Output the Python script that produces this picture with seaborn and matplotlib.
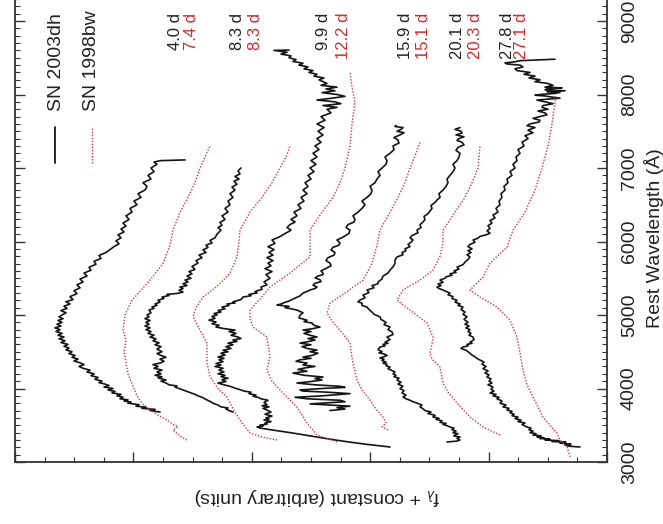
import matplotlib
matplotlib.use("Agg")
import matplotlib.pyplot as plt
import pandas as pd
import seaborn as sns
from matplotlib.ticker import MultipleLocator

# ---------------- data: (rest wavelength [A], f_lambda + constant [arbitrary units]) ----------------
sn03dh_04d = [(3680,447),(3700,457),(3715,452),(3730,465),(3745,461),(3760,471),(3780,468),(3800,479),
              (3815,476),(3830,483),(3845,479),(3860,487),(3880,484),(3900,490),(3920,486),(3940,495),
              (3960,492),(3980,499),(4000,494),(4020,503),(4040,498),(4060,502),(4080,508),(4100,505),
              (4125,512),(4150,509),(4175,516),(4200,513),(4225,520),(4250,517),(4275,524),(4300,528),
              (4325,523),(4350,527),(4375,533),(4400,529),(4425,535),(4450,532),(4475,538),(4500,535),
              (4525,541),(4550,538),(4575,543),(4600,539),(4625,546),(4650,542),(4675,548),(4700,543),
              (4725,549),(4750,545),(4775,551),(4800,547),(4825,552),(4850,546),(4875,550),(4900,545),
              (4925,549),(4950,544),(4975,548),(5000,545),(5030,541),(5060,546),(5090,540),(5120,543),
              (5150,537),(5180,541),(5210,534),(5250,537),(5290,530),(5330,533),(5370,527),(5410,530),
              (5450,524),(5490,527),(5530,520),(5570,523),(5610,516),(5650,518),(5690,511),(5730,513),
              (5770,506),(5810,508),(5850,501),(5890,497),(5930,493),(5970,488),(6010,491),(6050,486),
              (6090,489),(6130,483),(6170,486),(6210,481),(6250,484),(6300,478),(6350,481),(6400,475),
              (6450,477),(6500,470),(6550,473),(6600,466),(6650,469),(6700,462),(6750,460),(6800,464),
              (6850,456),(6900,459),(6950,453),(7000,456),(7050,450),(7080,453),(7100,447),(7110,422)]
sn98bw_07d = [(3300, 420), (3350, 427), (3400, 431), (3435, 434), (3480, 429), (3520, 435), (3570, 440),
              (3640, 449), (3710, 457), (3800, 465), (3900, 470), (4000, 473), (4200, 479), (4350, 481),
              (4500, 483), (4650, 481), (4800, 484), (5000, 482), (5200, 475), (5475, 457), (5700, 444),
              (5950, 437), (6155, 434), (6400, 427), (6600, 419), (6800, 412), (7000, 407), (7150, 402),
              (7300, 397)]
sn03dh_08d = [(3680,374),(3700,378),(3720,381),(3735,379),(3750,386),(3775,389),(3800,394),(3825,397),
              (3850,401),(3875,404),(3900,409),(3920,412),(3940,416),(3960,420),(3980,424),(4000,428),
              (4020,432),(4035,430),(4050,438),(4075,441),(4100,446),(4115,441),(4130,445),(4145,449),
              (4160,445),(4180,452),(4200,446),(4225,450),(4250,445),(4275,453),(4300,449),(4325,454),
              (4346,447),(4370,443),(4400,447),(4425,441),(4450,446),(4475,450),(4500,445),(4535,450),
              (4570,446),(4595,452),(4620,448),(4650,454),(4675,451),(4700,457),(4725,453),(4750,459),
              (4775,456),(4800,461),(4825,457),(4850,462),(4875,458),(4900,461),(4925,457),(4950,462),
              (4975,458),(5000,460),(5030,456),(5067,458),(5090,453),(5110,455),(5130,450),(5150,452),
              (5175,447),(5200,449),(5225,443),(5244,445),(5265,438),(5280,440),(5295,429),(5312,424),
              (5336,428),(5360,424),(5380,427),(5400,420),(5425,424),(5450,419),(5475,422),(5500,416),
              (5530,420),(5560,415),(5590,418),(5620,412),(5660,415),(5706,409),(5740,411),(5780,405),
              (5815,408),(5850,401),(5885,404),(5920,399),(5950,401),(5980,395),(6015,397),(6050,392),
              (6100,390),(6155,386),(6190,389),(6220,385),(6260,387),(6300,382),(6350,385),(6400,379),
              (6450,382),(6500,377),(6550,379),(6600,374),(6650,377),(6700,372),(6740,375),(6780,370),
              (6820,373),(6850,368),(6885,372),(6920,367),(6960,369),(7000,366)]
sn98bw_08d = [(3300, 330), (3340, 345), (3394, 357), (3480, 362), (3571, 367), (3700, 373), (3884, 380),
              (4000, 389), (4160, 397), (4346, 400), (4500, 400), (4618, 400), (4795, 407), (4975, 414),
              (5100, 411), (5244, 404), (5400, 389), (5570, 377), (5790, 370), (6000, 368), (6155, 367),
              (6400, 357), (6600, 345), (6800, 335), (7000, 327), (7150, 321), (7300, 317)]
sn03dh_10d = [(3204,217),(3240,240),(3270,257),(3300,272),(3340,290),(3370,304),(3400,317),(3420,327),
              (3440,337),(3462,347),(3476,350),(3490,344),(3500,347),(3515,340),(3530,342),(3550,336),
              (3570,343),(3585,338),(3600,341),(3625,335),(3650,342),(3680,336),(3707,340),(3730,344),
              (3750,338),(3765,345),(3780,340),(3810,343),(3840,339),(3860,346),(3880,349),(3895,354),
              (3910,351),(3930,358),(3950,356),(3965,363),(3980,366),(4005,372),(4030,377),(4050,383),
              (4074,389),(4095,381),(4120,385),(4140,379),(4160,386),(4180,382),(4200,389),(4225,383),
              (4250,388),(4275,384),(4300,392),(4320,386),(4340,391),(4365,384),(4390,388),(4410,383),
              (4428,389),(4455,382),(4480,386),(4500,379),(4520,384),(4545,376),(4570,381),(4595,374),
              (4618,379),(4640,370),(4660,374),(4680,366),(4700,369),(4725,376),(4750,371),(4775,378),
              (4795,372),(4815,383),(4836,391),(4860,388),(4880,395),(4905,391),(4930,398),(4955,392),
              (4980,395),(5000,390),(5020,393),(5040,386),(5060,389),(5085,382),(5108,385),(5130,378),
              (5150,380),(5165,372),(5180,374),(5210,366),(5244,364),(5262,356),(5280,358),(5300,350),
              (5320,352),(5350,345),(5380,346),(5410,340),(5450,343),(5500,337),(5550,341),(5590,335),
              (5630,342),(5670,336),(5706,339),(5740,334),(5780,340),(5815,334),(5850,338),(5890,333),
              (5930,339),(5975,332),(6020,335),(6060,328),(6100,323),(6130,319),(6155,316),(6190,320),
              (6230,317),(6265,312),(6300,316),(6350,310),(6400,313),(6450,306),(6500,309),(6550,303),
              (6600,306),(6650,300),(6700,304),(6750,299),(6800,302),(6850,296),(6900,299),(6950,293),
              (7000,297),(7050,291),(7100,296),(7150,290),(7200,294),(7250,288),(7300,292),(7350,286),
              (7400,290),(7450,284),(7500,289),(7550,283),(7600,290),(7650,282),(7700,286),(7750,276),
              (7800,280),(7825,270),(7850,284),(7875,266),(7900,272),(7925,290),(7950,275),(7975,262),
              (8000,270),(8025,285),(8050,272),(8075,281),(8100,270),(8125,286),(8150,280),(8200,288),
              (8225,283),(8250,293),(8275,290),(8300,298),(8325,294),(8350,303),(8375,299),(8400,308),
              (8425,304),(8450,314),(8475,311),(8500,318),(8525,316),(8550,326),(8575,320),(8600,333),
              (8605,318)]
sn98bw_12d = [(3272, 270), (3367, 290), (3450, 295), (3530, 300), (3640, 305), (3748, 310), (3938, 324),
              (4100, 335), (4250, 340), (4428, 337), (4600, 339), (4700, 340), (4836, 354), (4950, 357),
              (5067, 357), (5250, 345), (5380, 337), (5570, 317), (5790, 297), (6000, 297), (6155, 297),
              (6400, 285), (6600, 274), (6800, 267), (7000, 262), (7300, 257), (7600, 255), (7900, 252),
              (8100, 255), (8300, 257)]
sn03dh_16d = [(3700,277),(3720,262),(3740,270),(3760,257),(3790,297),(3805,280),(3820,262),(3840,267),
              (3860,300),(3880,312),(3900,285),(3930,257),(3950,280),(3965,304),(3980,307),(4000,285),
              (4015,262),(4030,267),(4050,292),(4074,310),(4095,296),(4115,285),(4135,292),(4156,284),
              (4180,303),(4210,314),(4235,300),(4260,309),(4280,302),(4300,292),(4320,304),(4346,300),
              (4370,311),(4390,307),(4410,296),(4428,304),(4450,295),(4480,289),(4500,297),(4523,290),
              (4545,300),(4570,305),(4595,296),(4618,307),(4640,298),(4660,292),(4680,299),(4700,290),
              (4725,297),(4750,303),(4775,296),(4795,304),(4815,294),(4836,287),(4860,293),(4890,295),
              (4910,303),(4930,300),(4960,308),(5000,307),(5030,304),(5067,310),(5085,316),(5100,322),
              (5118,318),(5135,330),(5150,326),(5162,324),(5190,318),(5230,312),(5260,307),(5298,304),
              (5320,300),(5340,297),(5360,292),(5380,290),(5405,294),(5430,292),(5455,286),(5480,287),
              (5505,292),(5530,289),(5550,284),(5570,284),(5600,286),(5640,280),(5670,276),(5706,277),
              (5740,281),(5780,279),(5815,273),(5850,272),(5885,276),(5920,274),(5950,268),(5980,267),
              (6020,270),(6060,264),(6110,258),(6155,257),(6190,261),(6230,259),(6265,253),(6300,252),
              (6350,254),(6400,249),(6450,245),(6500,242),(6550,245),(6600,240),(6650,236),(6700,235),
              (6750,237),(6800,232),(6850,230),(6900,227),(6950,229),(7000,225),(7050,221),(7100,220),
              (7150,222),(7200,217),(7250,213),(7300,214),(7340,208),(7380,209),(7415,213),(7450,207),
              (7480,203),(7500,210),(7525,206),(7550,204),(7565,212),(7580,211)]
sn98bw_15d = [(3435, 219), (3480, 225), (3530, 221), (3612, 224), (3720, 231), (3843, 237), (3980, 245),
              (4115, 250), (4346, 254), (4500, 256), (4618, 257), (4795, 267), (4900, 274), (5026, 280),
              (5162, 277), (5300, 262), (5475, 244), (5700, 235), (5950, 230), (6155, 227), (6400, 217),
              (6600, 209), (6800, 202), (7000, 197), (7200, 191), (7350, 187)]
sn03dh_20d = [(3272,160),(3285,150),(3300,147),(3320,150),(3340,147),(3355,153),(3370,152),(3385,149),
              (3400,154),(3420,151),(3440,155),(3460,153),(3476,157),(3495,160),(3510,164),(3525,161),
              (3540,167),(3560,165),(3580,171),(3595,168),(3612,174),(3635,172),(3660,179),(3680,176),
              (3700,182),(3725,184),(3750,187),(3775,185),(3802,190),(3820,194),(3840,197),(3860,201),
              (3884,204),(3910,201),(3940,205),(3970,203),(4000,207),(4030,204),(4060,209),(4085,206),
              (4115,210),(4140,208),(4160,213),(4180,211),(4200,214),(4225,212),(4250,216),(4270,219),
              (4292,217),(4310,221),(4330,220),(4345,224),(4360,221),(4380,225),(4400,223),(4415,227),
              (4428,224),(4450,220),(4470,223),(4485,228),(4500,225),(4530,229),(4564,227),(4580,222),
              (4600,224),(4615,219),(4630,222),(4665,217),(4700,220),(4735,214),(4770,215),(4800,219),
              (4836,217),(4870,223),(4900,221),(4940,226),(4975,227),(5010,233),(5040,235),(5075,238),
              (5108,240),(5130,245),(5160,245),(5180,249),(5203,247),(5235,242),(5270,244),(5305,238),
              (5340,240),(5370,233),(5400,235),(5425,229),(5450,229),(5490,225),(5530,224),(5570,219),
              (5610,217),(5655,214),(5700,212),(5745,212),(5790,210),(5820,204),(5850,205),(5875,201),
              (5900,202),(5930,197),(5960,199),(5990,196),(6020,194),(6050,197),(6080,195),(6120,189),
              (6155,190),(6190,186),(6230,187),(6265,184),(6300,182),(6340,183),(6380,179),(6415,177),
              (6450,175),(6490,176),(6530,172),(6565,170),(6600,167),(6650,168),(6700,164),(6750,161),
              (6800,159),(6850,160),(6900,157),(6950,154),(7000,152),(7050,154),(7100,150),(7150,148),
              (7200,147),(7240,151),(7280,149),(7315,143),(7350,145),(7375,150),(7400,148),(7425,143),
              (7450,151),(7475,145),(7500,146),(7525,152),(7550,147)]
sn98bw_20d = [(3367, 107), (3476, 124), (3612, 137), (3802, 150), (3950, 159), (4074, 164), (4292, 167),
              (4400, 175), (4482, 177), (4600, 175), (4700, 174), (4890, 180), (5067, 197), (5203, 210),
              (5340, 204), (5475, 187), (5610, 174), (5800, 167), (5980, 164), (6155, 164), (6400, 152),
              (6600, 142), (6800, 135), (7000, 129), (7300, 127)]
sn03dh_28d = [(3204,27),(3215,38),(3230,42),(3240,36),(3258,47),(3268,41),(3280,55),(3290,48),(3300,62),
              (3310,57),(3320,67),(3330,63),(3340,70),(3355,66),(3370,74),(3385,71),(3400,77),(3420,74),
              (3440,78),(3460,76),(3476,80),(3495,83),(3510,85),(3530,82),(3550,89),(3570,86),(3590,92),
              (3610,89),(3630,95),(3650,93),(3670,97),(3690,95),(3707,100),(3730,98),(3750,104),(3775,101),
              (3800,107),(3830,105),(3860,110),(3880,108),(3900,114),(3920,111),(3938,117),(3965,113),
              (3990,116),(4020,114),(4050,119),(4075,115),(4100,118),(4130,116),(4156,120),(4185,118),
              (4210,122),(4240,119),(4270,124),(4300,121),(4330,125),(4360,123),(4387,127),(4410,130),
              (4430,132),(4455,135),(4480,137),(4500,139),(4520,141),(4545,146),(4564,144),(4580,139),
              (4600,140),(4615,135),(4630,137),(4665,133),(4700,134),(4725,138),(4750,136),(4775,139),
              (4800,137),(4825,141),(4850,138),(4875,142),(4900,139),(4940,143),(4975,140),(5010,144),
              (5040,142),(5075,146),(5108,144),(5130,149),(5150,147),(5175,152),(5200,150),(5225,155),
              (5250,154),(5275,159),(5298,157),(5320,161),(5340,164),(5360,168),(5380,170),(5400,166),
              (5420,169),(5445,164),(5475,167),(5500,162),(5520,161),(5540,155),(5560,157),(5580,151),
              (5600,153),(5625,148),(5652,150),(5685,144),(5720,142),(5755,139),(5790,137),(5820,140),
              (5850,136),(5875,139),(5900,135),(5930,139),(5960,137),(5990,132),(6020,134),(6045,129),
              (6070,127),(6090,121),(6114,117),(6145,120),(6180,117),(6215,119),(6250,115),(6285,117),
              (6320,112),(6360,114),(6400,109),(6450,111),(6500,107),(6550,108),(6600,105),(6650,106),
              (6700,102),(6750,103),(6800,99),(6850,100),(6900,95),(6950,97),(7000,92),(7050,94),
              (7100,90),(7150,91),(7200,87),(7250,89),(7300,83),(7350,85),(7400,79),(7440,82),(7480,74),
              (7515,79),(7550,72),(7575,80),(7600,77),(7625,68),(7650,67),(7675,74),(7700,67),(7725,60),
              (7750,62),(7775,69),(7800,59),(7825,65),(7850,64),(7875,54),(7900,62),(7925,70),(7950,47),
              (7965,55),(7980,62),(7990,72),(8000,67),(8015,52),(8030,47),(8040,60),(8050,42),(8065,62),
              (8080,59),(8090,45),(8100,62),(8125,54),(8150,59),(8175,72),(8200,67),(8225,78),(8250,72),
              (8275,83),(8300,77),(8325,90),(8350,92),(8375,84),(8400,87),(8415,100),(8430,102),
              (8445,92),(8460,87),(8470,70),(8480,52)]
sn98bw_27d = [(3068, 37), (3204, 40), (3300, 47), (3394, 50), (3500, 57), (3612, 64), (3750, 69),
              (3884, 74), (4050, 80), (4250, 84), (4482, 87), (4700, 90), (4930, 97), (5108, 110),
              (5244, 127), (5340, 137), (5516, 124), (5706, 117), (5924, 100), (6155, 94), (6400, 82),
              (6700, 72), (7000, 65), (7300, 59), (7600, 55), (7900, 52), (8000, 51)]

epochs_03dh = ["4.0 d", "8.3 d", "9.9 d", "15.9 d", "20.1 d", "27.8 d"]
epochs_98bw = ["7.4 d", "8.3 d", "12.2 d", "15.1 d", "20.3 d", "27.1 d"]
label_flux_03dh = [432, 369, 283, 202, 149, 100]
label_flux_98bw = [415, 351, 264, 183, 131, 85]
series_names = ["SN 2003dh", "SN 1998bw"]
wave_ticks = [3000, 4000, 5000, 6000, 7000, 8000, 9000]

spectra_03dh = [sn03dh_04d, sn03dh_08d, sn03dh_10d, sn03dh_16d, sn03dh_20d, sn03dh_28d]
spectra_98bw = [sn98bw_07d, sn98bw_08d, sn98bw_12d, sn98bw_15d, sn98bw_20d, sn98bw_27d]

# ---------------- styling ----------------
sns.set_style("white")
plt.rcParams["font.family"] = ["Liberation Sans", "DejaVu Sans"]
plt.rcParams["mathtext.fontset"] = "custom"
plt.rcParams["mathtext.rm"] = "Liberation Sans"
plt.rcParams["mathtext.it"] = "Liberation Sans:italic"

BLACK = "#151515"
RED = "#d23a3a"
LABEL_RED = "#d42a2a"

fig = plt.figure(figsize=(6.63, 5.24), dpi=100)
ax = fig.add_axes([15 / 663, 62 / 524, 592 / 663, 477.75 / 524])

rows = []
for sn, group in (("SN 2003dh", spectra_03dh), ("SN 1998bw", spectra_98bw)):
    for i, spec in enumerate(group):
        for w, f in spec:
            rows.append({"sn": sn, "idx": i, "wave": w, "flux": f})
df = pd.DataFrame(rows)

for (sn, i), sub in df.groupby(["sn", "idx"], sort=False):
    if sn == "SN 2003dh":
        sns.lineplot(data=sub, x="flux", y="wave", orient="y", sort=False, estimator=None,
                     color=BLACK, lw=1.2, ax=ax)
    else:
        sns.lineplot(data=sub, x="flux", y="wave", orient="y", sort=False, estimator=None,
                     color=RED, lw=1.0, linestyle=(0, (1, 1.2)), ax=ax)

ax.set_xlim(592, 0)
ax.set_ylim(3000, 9500)

ax.yaxis.set_major_locator(MultipleLocator(1000))
ax.yaxis.set_minor_locator(MultipleLocator(100))
ax.xaxis.set_major_locator(MultipleLocator(118.4))
ax.xaxis.set_minor_locator(MultipleLocator(29.6))
ax.set_yticks(wave_ticks)
ax.set_yticklabels([str(t) for t in wave_ticks])

ax.tick_params(axis="both", which="both", direction="in", top=True, bottom=True,
               left=True, right=True, colors="#333333")
ax.tick_params(which="major", length=7, width=1.0)
ax.tick_params(which="minor", length=3.5, width=0.8)
ax.tick_params(axis="x", labelbottom=False, labeltop=False)
ax.tick_params(axis="y", labelleft=False, labelright=True, labelsize=14, pad=10,
               labelrotation=90, labelcolor="#222222")
for lab in ax.get_yticklabels():
    lab.set_va("center")
    lab.set_ha("left")

for sp in ax.spines.values():
    sp.set_linewidth(1.3)
    sp.set_color("#333333")

xl = ax.set_xlabel(r"f$_\lambda$ + constant (arbitrary units)", fontsize=14, rotation=180,
                   color="#222222")
ax.xaxis.set_label_coords(0.510, -0.073)
xl.set_va("center")
xl.set_ha("center")

yl = ax.set_ylabel("Rest Wavelength (Å)", fontsize=14, rotation=90, color="#222222")
ax.yaxis.set_label_position("right")
ax.yaxis.set_label_coords(1.079, 0.469)
yl.set_va("center")
yl.set_ha("center")

# epoch labels
for txt, fx in zip(epochs_03dh, label_flux_03dh):
    ax.text(fx, 9115, txt, rotation=90, rotation_mode="anchor", ha="right", va="center",
            fontsize=12, color="#222222")
for txt, fx in zip(epochs_98bw, label_flux_98bw):
    ax.text(fx, 9115, txt, rotation=90, rotation_mode="anchor", ha="right", va="center",
            fontsize=12, color=LABEL_RED)

# legend (rotated, drawn by hand in axes coordinates)
ax.plot([0.0676, 0.0676], [0.626, 0.701], transform=ax.transAxes, color=BLACK, lw=1.3)
ax.plot([0.130, 0.130], [0.626, 0.701], transform=ax.transAxes, color=RED, lw=1.0,
        linestyle=(0, (1, 1.2)))
ax.text(0.0709, 0.735, series_names[0], transform=ax.transAxes, rotation=90,
        rotation_mode="anchor", ha="left", va="center", fontsize=14, color="#222222")
ax.text(0.130, 0.735, series_names[1], transform=ax.transAxes, rotation=90,
        rotation_mode="anchor", ha="left", va="center", fontsize=14, color="#222222")

fig.savefig("out.png", dpi=100, facecolor="white")
